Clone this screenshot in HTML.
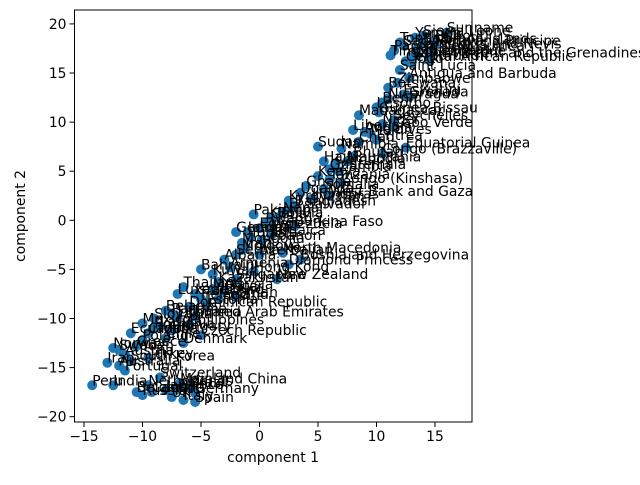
<!DOCTYPE html>
<html><head><meta charset="utf-8"><style>body{margin:0;background:#fff}svg{font-family:"DejaVu Sans","Liberation Sans",sans-serif}</style></head>
<body>
<svg id="chart" width="640" height="480"></svg>
<script>
const names=["Suriname","Yemen","Sao Tome and Principe","Saint Vincent and the Grenadines","Central African Republic","Saint Lucia","Antigua and Barbuda","Saint Kitts and Nevis","Papua New Guinea","Solomon Islands","Timor-Leste","Zimbabwe","Comoros","Djibouti","Tonga","Eswatini","Nicaragua","Grenada","Benin","Guinea-Bissau","Madagascar","Seychelles","Cabo Verde","Liberia","Maldives","Eritrea","Equatorial Guinea","Congo (Brazzaville)","Namibia","Bhutan","Haiti","Cambodia","Sudan","Guatemala","Kenya","Congo (Kinshasa)","Ghana","West Bank and Gaza","Uganda","Kyrgyzstan","Bangladesh","Nepal","Bolivia","Rwanda","Burkina Faso","Pakistan","Egypt","Georgia","Jamaica","Mongolia","Lebanon","Tunisia","North Macedonia","Bosnia and Herzegovina","Diamond Princess","Hong Kong","Serbia","Moldova","Albania","Bahrain","Kuwait","New Zealand","Singapore","Thailand","Malaysia","Israel","Luxembourg","Ireland","Iceland","Dominican Republic","Belarus","Panama","United Arab Emirates","Slovakia","Mexico","Philippines","Romania","Ecuador","Czech Republic","Chile","Denmark","Poland","Sweden","Austria","South Korea","Australia","Portugal","Peru","India","Switzerland","Netherlands","Mainland China","Russia","France","UK","Germany","Spain","Italy","Canada","Brazil","Belgium","Japan","Togo","Mozambique","Burundi","Malawi","Sierra Leone","Botswana","Lesotho","Angola","Niger","Chad","Mauritania","Zambia","Tanzania","Somalia","Honduras","El Salvador","Cuba","Venezuela","Jordan","Iraq","Azerbaijan","Armenia","Kazakhstan","Qatar","Oman","Estonia","Lithuania","Latvia","Croatia","Hungary","Greece","Norway","Iran","Turkey"];
const comp1=[16.0,13.3,12.3,13.0,12.5,12.0,12.8,13.5,11.5,14.0,11.2,11.8,14.5,15.0,12.0,12.3,11.0,12.8,10.5,10.2,8.5,11.5,11.4,8.0,9.5,10.0,12.5,10.5,7.0,8.0,5.5,6.5,5.0,6.0,5.0,7.0,4.0,6.0,3.5,2.5,3.0,2.0,1.5,0.5,3.0,-0.5,0.0,-2.0,1.0,-1.5,0.2,-0.8,2.0,3.5,2.5,-0.5,-2.0,-1.5,-3.0,-5.0,-4.0,1.5,-2.0,-6.5,-4.0,-5.5,-7.0,-5.0,-3.5,-6.0,-8.0,-7.5,-5.5,-9.0,-10.0,-6.0,-9.0,-11.0,-5.0,-8.0,-6.5,-10.0,-12.0,-11.5,-11.0,-12.0,-11.5,-14.3,-12.5,-8.5,-9.5,-6.8,-10.0,-7.0,-7.5,-5.5,-5.5,-6.5,-9.2,-6.0,-10.5,-8.0,13.0,13.5,14.5,15.0,14.0,11.0,10.0,9.0,10.5,8.5,7.5,6.8,6.0,5.5,4.5,2.5,1.0,1.0,-1.0,-1.2,0.0,-2.5,-3.5,-3.0,-2.0,-4.5,-7.0,-8.5,-9.5,-7.5,-10.5,-12.5,-13.0,-9.5];
const comp2=[19.1,18.6,17.8,16.6,16.2,15.3,14.5,17.5,17.3,18.0,16.8,14.0,17.0,18.3,18.1,12.8,12.4,12.6,12.0,11.0,10.7,10.2,9.5,9.2,8.8,8.2,7.4,6.8,7.3,6.5,6.0,5.8,7.5,5.2,4.5,3.8,3.5,2.5,2.8,2.0,1.5,0.8,0.3,-0.3,-0.6,0.6,-0.8,-1.2,-1.5,-2.3,-2.0,-1.7,-3.3,-4.0,-4.5,-5.2,-3.5,-3.0,-4.0,-5.0,-5.5,-6.0,-6.0,-6.8,-7.0,-7.5,-7.5,-8.0,-8.0,-8.8,-9.2,-9.5,-9.8,-10.0,-10.5,-10.6,-11.0,-11.5,-11.7,-12.0,-12.5,-12.2,-13.2,-13.7,-14.3,-14.8,-15.3,-16.8,-16.8,-16.0,-16.8,-16.6,-17.8,-17.2,-18.0,-17.6,-18.5,-18.3,-17.5,-17.0,-17.5,-17.3,16.0,16.8,16.3,17.8,18.8,13.5,11.5,9.0,9.8,8.0,6.0,5.0,4.2,3.2,2.2,1.2,0.2,-0.8,-1.2,-2.8,-3.5,-4.8,-6.3,-7.2,-7.8,-8.5,-9.8,-10.8,-11.5,-11.2,-12.8,-13.0,-14.5,-14.0];
const xTicks=[-15,-10,-5,0,5,10,15];
const yTicks=[-20,-15,-10,-5,0,5,10,15,20];
const NS="http://www.w3.org/2000/svg";
const svg=document.getElementById('chart');
const L=74.5,R=472,T=10,B=422;
const sx=v=>259.5+v*11.7, sy=v=>220.3-v*9.82;
function mk(t,a,p){const e=document.createElementNS(NS,t);for(const k in a)e.setAttribute(k,a[k]);(p||svg).appendChild(e);return e;}
const pts=mk('g',{});


for(let i=0;i<names.length;i++){const c=mk('circle',{cx:sx(comp1[i]),cy:sy(comp2[i]),r:5,fill:'#1f77b4'},pts);

}
const lg=mk('g',{'font-size':'13.9px',fill:'#000'});


for(let i=0;i<names.length;i++){const t=mk('text',{x:sx(comp1[i]),y:sy(comp2[i])},lg);t.textContent=names[i];

}
const fr=mk('rect',{x:L,y:T,width:R-L,height:B-T,fill:'none',stroke:'#000','stroke-width':1});


for(const v of xTicks){mk('line',{x1:sx(v),x2:sx(v),y1:B,y2:B+5,stroke:'#000'});
const t=mk('text',{x:sx(v),y:B+19,'text-anchor':'middle','font-size':'13.9px'});t.textContent=v<0?'\u2212'+(-v):v;

}
for(const v of yTicks){mk('line',{x1:L-5,x2:L,y1:sy(v),y2:sy(v),stroke:'#000'});
const t=mk('text',{x:L-8,y:sy(v)+5,'text-anchor':'end','font-size':'13.9px'});t.textContent=v<0?'\u2212'+(-v):v;

}
const xt=mk('text',{x:273,y:462,'text-anchor':'middle','font-size':'13.9px'});xt.textContent='component 1';


const yt=mk('text',{x:25,y:216,'text-anchor':'middle','font-size':'13.9px',transform:'rotate(-90 25 216)'});yt.textContent='component 2';


</script>
</body></html>
